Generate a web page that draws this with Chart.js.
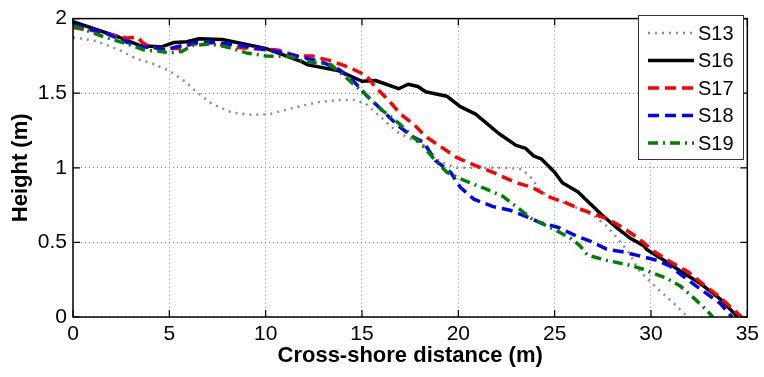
<!DOCTYPE html>
<html>
<head>
<meta charset="utf-8">
<script src="https://cdn.jsdelivr.net/npm/chart.js@4/dist/chart.umd.min.js"></script>
<style>
html,body{margin:0;padding:0;background:#fff;}
canvas{display:block;}
</style>
</head>
<body>
<canvas id="c" width="764" height="377" style="width:764px;height:377px"></canvas>
<script>
// ---- data ----
const seriesNames = ['S13', 'S16', 'S17', 'S18', 'S19'];

const s13X = [0, 1.2, 2.4, 3.3, 4.1, 5.0, 5.8, 6.4, 7.2, 8.25, 9.3, 10.2, 11.4, 12.7, 13.8, 14.6, 15.2, 15.8, 16.4, 16.9, 18.2, 19.05, 19.9, 21.1, 22.5, 23.3, 23.8, 24.3, 25.0, 26.0, 27.0, 27.7, 28.3, 28.8, 29.4, 30.3, 31.2, 31.9];
const s13Y = [1.875, 1.85, 1.79, 1.73, 1.70, 1.65, 1.58, 1.51, 1.43, 1.37, 1.355, 1.36, 1.40, 1.44, 1.455, 1.455, 1.43, 1.36, 1.29, 1.235, 1.15, 1.04, 1.0, 1.0, 1.0, 0.99, 0.93, 0.84, 0.79, 0.74, 0.68, 0.61, 0.52, 0.44, 0.31, 0.195, 0.09, 0.0];

const s16X = [0, 2.4, 3.45, 4.6, 5.25, 5.9, 6.55, 7.75, 10.0, 11.9, 12.2, 13.8, 15.0, 15.7, 16.9, 17.4, 17.9, 18.3, 19.4, 20.1, 20.9, 22.1, 23.0, 23.5, 23.9, 24.3, 25.0, 25.4, 26.2, 27.4, 28.2, 28.9, 29.6, 29.8, 30.8, 31.5, 32.5, 33.6, 34.5];
const s16Y = [1.98, 1.875, 1.82, 1.81, 1.84, 1.845, 1.865, 1.86, 1.80, 1.71, 1.69, 1.65, 1.58, 1.585, 1.53, 1.56, 1.545, 1.51, 1.48, 1.41, 1.36, 1.23, 1.15, 1.13, 1.08, 1.06, 0.97, 0.90, 0.84, 0.69, 0.60, 0.53, 0.48, 0.45, 0.37, 0.31, 0.23, 0.12, 0.0];

const s17X = [0, 1.0, 2.8, 3.35, 3.6, 4.0, 4.5, 5.0, 5.5, 6.2, 7.4, 8.0, 9.2, 10.6, 11.6, 12.4, 13.3, 14.3, 15.2, 15.7, 16.4, 17.0, 17.7, 18.3, 19.1, 19.9, 20.8, 21.8, 23.0, 23.8, 24.8, 25.5, 26.2, 27.0, 27.7, 28.4, 29.1, 29.6, 30.2, 31.0, 31.9, 32.7, 33.6, 34.7];
const s17Y = [1.94, 1.92, 1.87, 1.875, 1.84, 1.81, 1.80, 1.80, 1.80, 1.83, 1.84, 1.81, 1.80, 1.79, 1.75, 1.75, 1.72, 1.675, 1.62, 1.54, 1.45, 1.36, 1.29, 1.21, 1.14, 1.07, 1.02, 0.97, 0.90, 0.87, 0.80, 0.77, 0.73, 0.69, 0.66, 0.61, 0.55, 0.50, 0.435, 0.37, 0.305, 0.22, 0.13, 0.0];

const s18X = [0, 1.75, 2.6, 3.6, 4.3, 4.8, 5.35, 6.4, 7.4, 9.2, 10.9, 11.8, 12.9, 13.8, 14.5, 15.2, 16.0, 16.9, 17.6, 18.2, 18.8, 19.6, 20.1, 20.8, 21.8, 22.7, 23.5, 24.3, 25.2, 26.0, 26.9, 27.7, 28.6, 29.4, 30.3, 31.0, 31.9, 32.7, 33.6, 34.2];
const s18Y = [1.96, 1.90, 1.85, 1.81, 1.805, 1.79, 1.81, 1.84, 1.84, 1.81, 1.77, 1.745, 1.71, 1.66, 1.59, 1.49, 1.39, 1.28, 1.21, 1.17, 1.05, 0.97, 0.87, 0.79, 0.74, 0.715, 0.675, 0.63, 0.60, 0.55, 0.505, 0.455, 0.435, 0.41, 0.38, 0.34, 0.25, 0.175, 0.09, 0.0];

const s19X = [0, 0.5, 1.55, 2.8, 3.8, 4.3, 5.0, 5.65, 6.2, 7.1, 8.0, 9.0, 10.0, 11.3, 11.8, 12.2, 13.4, 14.3, 15.2, 16.0, 16.9, 17.75, 18.0, 18.7, 19.4, 20.4, 21.4, 22.3, 23.0, 23.8, 25.0, 25.8, 26.3, 26.7, 27.7, 28.8, 29.6, 30.8, 31.5, 32.2, 32.9, 33.2];
const s19Y = [1.95, 1.93, 1.88, 1.83, 1.785, 1.785, 1.77, 1.78, 1.82, 1.83, 1.81, 1.77, 1.75, 1.745, 1.72, 1.71, 1.69, 1.59, 1.49, 1.39, 1.30, 1.195, 1.17, 1.065, 0.97, 0.91, 0.86, 0.81, 0.74, 0.66, 0.585, 0.53, 0.48, 0.415, 0.38, 0.35, 0.32, 0.26, 0.21, 0.13, 0.045, 0.0];

const xTickValues = [0, 5, 10, 15, 20, 25, 30, 35];
const yTickLabels = ['0', '0.5', '1', '1.5', '2'];
const xTitle = 'Cross-shore distance (m)';
const yTitle = 'Height (m)';

// ---- build chart ----
function pts(xs, ys) { return xs.map((x, i) => ({x: x, y: ys[i]})); }

const styles = [
  {color: '#8c8c8c', width: 2.5, dash: [2, 5], order: 5},
  {color: '#000000', width: 3.5, dash: [], order: 4},
  {color: '#ff0000', width: 3.5, dash: [11, 6], order: 3},
  {color: '#0000ff', width: 3.5, dash: [11, 6], order: 2},
  {color: '#008000', width: 3.5, dash: [10, 5, 2, 5], order: 1}
];
const seriesData = [pts(s13X, s13Y), pts(s16X, s16Y), pts(s17X, s17Y), pts(s18X, s18Y), pts(s19X, s19Y)];

const datasets = seriesNames.map((n, i) => ({
  label: n,
  data: seriesData[i],
  borderColor: styles[i].color,
  borderWidth: styles[i].width,
  borderDash: styles[i].dash,
  borderCapStyle: 'butt',
  borderJoinStyle: 'round',
  pointRadius: 0,
  fill: false,
  tension: 0,
  order: styles[i].order
}));

const FONT = "'Liberation Sans', Arial, Helvetica, sans-serif";

const boxPlugin = {
  id: 'boxPlugin',
  afterDraw(chart) {
    const ctx = chart.ctx;
    const a = chart.chartArea;
    const xs = chart.scales.x, ys = chart.scales.y;
    ctx.save();
    ctx.strokeStyle = '#000';
    ctx.lineWidth = 1.5;
    ctx.setLineDash([]);
    ctx.strokeRect(a.left, a.top, a.right - a.left, a.bottom - a.top);
    const tl = 7;
    ctx.lineWidth = 1.2;
    ctx.beginPath();
    xTickValues.forEach(v => {
      const px = xs.getPixelForValue(v);
      ctx.moveTo(px, a.bottom); ctx.lineTo(px, a.bottom - tl);
      ctx.moveTo(px, a.top); ctx.lineTo(px, a.top + tl);
    });
    yTickLabels.forEach(s => {
      const py = ys.getPixelForValue(parseFloat(s));
      ctx.moveTo(a.left, py); ctx.lineTo(a.left + tl, py);
      ctx.moveTo(a.right, py); ctx.lineTo(a.right - tl, py);
    });
    ctx.stroke();

    // legend box
    const lx = 638, ly = 15, lw = 105, lh = 144;
    ctx.fillStyle = '#fff';
    ctx.fillRect(lx, ly, lw, lh);
    ctx.strokeStyle = '#333';
    ctx.lineWidth = 1;
    ctx.strokeRect(lx + 0.5, ly + 0.5, lw, lh);
    ctx.font = '20px ' + FONT;
    ctx.textBaseline = 'middle';
    ctx.textAlign = 'left';
    chart.data.datasets.forEach((ds, i) => {
      const cy = ly + 18 + i * 27.5;
      ctx.strokeStyle = ds.borderColor;
      ctx.lineWidth = ds.borderWidth;
      ctx.setLineDash(ds.borderDash);
      ctx.lineCap = 'butt';
      ctx.beginPath();
      ctx.moveTo(648, cy); ctx.lineTo(694, cy);
      ctx.stroke();
      ctx.setLineDash([]);
      ctx.fillStyle = '#000';
      ctx.fillText(ds.label, 698, cy + 1);
    });
    ctx.restore();
  }
};

new Chart(document.getElementById('c'), {
  type: 'line',
  data: {datasets: datasets},
  plugins: [boxPlugin],
  options: {
    responsive: false,
    devicePixelRatio: 1,
    animation: false,
    layout: {padding: {left: 0, top: 9, right: 14, bottom: 0}},
    plugins: {legend: {display: false}, tooltip: {enabled: false}},
    scales: {
      x: {
        type: 'linear', min: 0, max: 35,
        afterBuildTicks(s) { s.ticks = xTickValues.map(v => ({value: v})); },
        afterFit(s) { s.height = 60; },
        ticks: {
          autoSkip: false, maxRotation: 0, padding: 5, color: '#000',
          font: {family: FONT, size: 21},
          callback: v => String(v)
        },
        grid: {color: '#8a8a8a', lineWidth: 1, drawTicks: false},
        border: {display: false, dash: [1, 3]},
        title: {display: true, text: xTitle, color: '#000', font: {family: FONT, size: 22, weight: 'bold'}, padding: {top: 0, bottom: 8}}
      },
      y: {
        type: 'linear', min: 0, max: 2,
        afterBuildTicks(s) { s.ticks = yTickLabels.map(t => ({value: parseFloat(t)})); },
        afterFit(s) { s.width = 73; },
        ticks: {
          autoSkip: false, padding: 6, color: '#000',
          font: {family: FONT, size: 21},
          callback: v => yTickLabels.find(t => parseFloat(t) === v)
        },
        grid: {color: '#8a8a8a', lineWidth: 1, drawTicks: false},
        border: {display: false, dash: [1, 3]},
        title: {display: true, text: yTitle, color: '#000', font: {family: FONT, size: 22, weight: 'bold'}, padding: {top: 8, bottom: 0}}
      }
    }
  }
});
</script>
</body>
</html>
